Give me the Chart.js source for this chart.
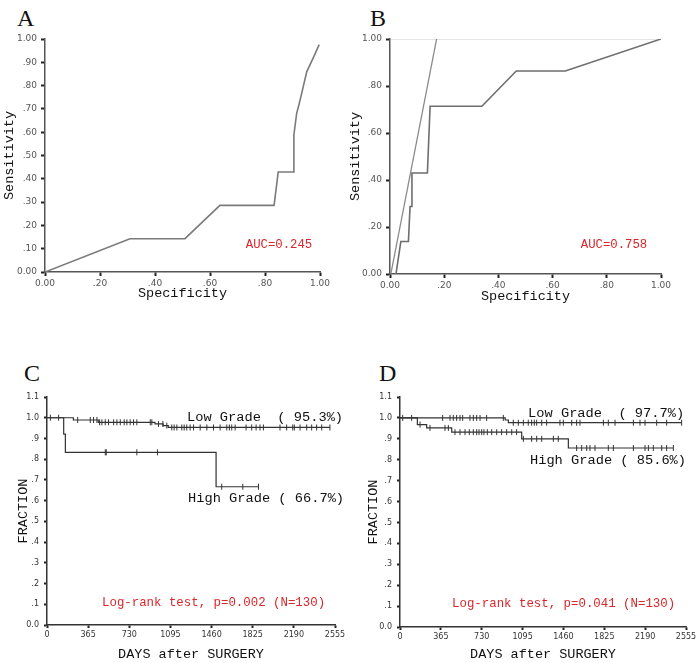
<!DOCTYPE html>
<html>
<head>
<meta charset="utf-8">
<script src="https://cdn.jsdelivr.net/npm/chart.js@4.4.1/dist/chart.umd.min.js"></script>
<style>
  body { margin: 0; background: #fff; width: 700px; height: 663px; position: relative; overflow: hidden; }
  canvas { position: absolute; }
  .letter { position: absolute; font-family: 'Liberation Serif', serif; font-size: 24px; line-height: 1; color: #111; }
</style>
</head>
<body>
<div class="letter" style="left:17px; top:6px;">A</div>
<div class="letter" style="left:370px; top:6px;">B</div>
<div class="letter" style="left:24px; top:361px;">C</div>
<div class="letter" style="left:379px; top:361px;">D</div>
<canvas id="chartA" width="340" height="310" style="left:0; top:0;"></canvas>
<canvas id="chartB" width="360" height="310" style="left:340px; top:0;"></canvas>
<canvas id="chartC" width="350" height="283" style="left:0; top:380px;"></canvas>
<canvas id="chartD" width="350" height="283" style="left:350px; top:380px;"></canvas>
<script>
// ROC A
var aSpec = [0, 0.309, 0.509, 0.636, 0.833, 0.848, 0.905, 0.905, 0.915, 0.925, 0.952, 0.975, 0.997];
var aSens = [0, 0.143, 0.143, 0.286, 0.286, 0.429, 0.429, 0.588, 0.68, 0.725, 0.86, 0.918, 0.976];
var aAuc = 'AUC=0.245';

// ROC B
var bSpec = [0.022, 0.04, 0.068, 0.074, 0.081, 0.081, 0.138, 0.148, 0.156, 0.339, 0.466, 0.647, 1.0];
var bSens = [0, 0.138, 0.138, 0.287, 0.287, 0.43, 0.43, 0.714, 0.714, 0.714, 0.864, 0.864, 1.0];
var bRefSpec = [0.003, 0.172];
var bRefSens = [0, 1];
var bAuc = 'AUC=0.758';

// ROC tick labels
var aYTicks = [0, 0.1, 0.2, 0.3, 0.4, 0.5, 0.6, 0.7, 0.8, 0.9, 1];
var aYLabels = ['0.00', '.10', '.20', '.30', '.40', '.50', '.60', '.70', '.80', '.90', '1.00'];
var bYTicks = [0, 0.2, 0.4, 0.6, 0.8, 1];
var bYLabels = ['0.00', '.20', '.40', '.60', '.80', '1.00'];
var rocXTicks = [0, 0.2, 0.4, 0.6, 0.8, 1];
var rocXLabels = ['0.00', '.20', '.40', '.60', '.80', '1.00'];

// Kaplan-Meier C
var cLowTime = [0, 234, 455, 958, 1030, 1076, 2510];
var cLowSurv = [1.0, 0.989, 0.978, 0.97, 0.962, 0.953, 0.953];
var cLowCens = [30, 103, 272, 384, 413, 443, 467, 487, 517, 546, 591, 620, 650, 685, 709, 738, 768, 797, 916, 930, 989, 1028, 1063, 1107, 1128, 1152, 1196, 1217, 1240, 1270, 1300, 1359, 1418, 1477, 1536, 1595, 1618, 1639, 1669, 1766, 1816, 1855, 1890, 1920, 2067, 2126, 2180, 2194, 2245, 2304, 2348, 2392, 2437, 2510];
var cHighTime = [0, 148, 163, 1500, 1876];
var cHighSurv = [1.0, 0.921, 0.833, 0.667, 0.667];
var cHighCens = [517, 526, 797, 980, 1550, 1737, 1876];
var cNotes = ['Low Grade  ( 95.3%)', 'High Grade ( 66.7%)', 'Log-rank test, p=0.002 (N=130)'];

// Kaplan-Meier D
var dLowTime = [0, 940, 968, 2516];
var dLowSurv = [1.0, 0.99, 0.977, 0.977];
var dLowCens = [24, 104, 381, 447, 476, 506, 536, 560, 625, 655, 685, 715, 774, 923, 1012, 1057, 1102, 1146, 1176, 1200, 1221, 1266, 1310, 1429, 1459, 1534, 1578, 1608, 1817, 1861, 1921, 2085, 2144, 2189, 2293, 2382, 2516];
var dHighTime = [0, 155, 238, 462, 1087, 1504, 2442];
var dHighSurv = [1.0, 0.968, 0.952, 0.932, 0.90, 0.856, 0.856];
var dHighCens = [179, 268, 402, 432, 491, 536, 581, 619, 655, 685, 706, 730, 750, 780, 819, 864, 908, 953, 998, 1042, 1102, 1176, 1221, 1266, 1370, 1414, 1578, 1623, 1668, 1697, 1742, 1861, 1906, 2085, 2189, 2219, 2263, 2338, 2382, 2442];
var dNotes = ['Low Grade  ( 97.7%)', 'High Grade ( 85.6%)', 'Log-rank test, p=0.041 (N=130)'];

// KM tick labels
var kmXTicks = [0, 365, 730, 1095, 1460, 1825, 2190, 2555];
var kmXLabels = ['0', '365', '730', '1095', '1460', '1825', '2190', '2555'];
var kmYTicks = [0, 0.1, 0.2, 0.3, 0.4, 0.5, 0.6, 0.7, 0.8, 0.9, 1.0, 1.1];
var kmYLabels = ['0.0', '.1', '.2', '.3', '.4', '.5', '.6', '.7', '.8', '.9', '1.0', '1.1'];

var RED = '#d8262b';
var MONO = "'Liberation Mono', 'DejaVu Sans Mono', monospace";

function pairs(xs, ys) {
  var out = [];
  for (var i = 0; i < xs.length; i++) {
    out.push({ x: xs[i], y: ys[i] });
  }
  return out;
}

function survAt(times, surv, t) {
  var s = surv[0];
  for (var i = 0; i < times.length; i++) {
    if (times[i] <= t) s = surv[i];
  }
  return s;
}

function censorPoints(cens, times, surv) {
  var out = [];
  for (var i = 0; i < cens.length; i++) {
    out.push({ x: cens[i], y: survAt(times, surv, cens[i]) });
  }
  return out;
}

// draws text notes at data coordinates
var notesPlugin = {
  id: 'notes',
  afterDatasetsDraw: function (chart, args, opts) {
    var ctx = chart.ctx;
    var items = opts.items || [];
    for (var i = 0; i < items.length; i++) {
      var n = items[i];
      ctx.save();
      ctx.font = n.font;
      ctx.fillStyle = n.color;
      ctx.textBaseline = 'middle';
      ctx.textAlign = 'left';
      ctx.fillText(n.text, chart.scales.x.getPixelForValue(n.x), chart.scales.y.getPixelForValue(n.y));
      ctx.restore();
    }
  }
};

function fixedTicks(vals) {
  return function (scale) {
    scale.ticks = vals.map(function (v) { return { value: v }; });
  };
}

function axis(opts) {
  return {
    type: 'linear',
    min: opts.min,
    max: opts.max,
    afterBuildTicks: fixedTicks(opts.ticks),
    afterFit: opts.fit,
    ticks: {
      autoSkip: false,
      maxRotation: 0,
      padding: opts.padding,
      color: opts.tickColor,
      font: { family: "'DejaVu Sans', sans-serif", size: opts.tickSize },
      callback: function (v, i) { return opts.labels[i]; }
    },
    grid: {
      drawOnChartArea: !!opts.topLine,
      color: function (c) {
        return (opts.topLine && c.tick && c.tick.value === opts.max) ? '#e4e4e4' : 'rgba(0,0,0,0)';
      },
      tickColor: '#222',
      tickLength: opts.tickLength,
      tickWidth: 2
    },
    border: { display: true, color: opts.axisColor, width: 1.5 },
    title: {
      display: true,
      text: opts.title,
      color: '#111',
      font: { family: MONO, size: 13.5 },
      padding: opts.titlePad
    }
  };
}

function baseOptions(pad, scales, notes) {
  return {
    responsive: false,
    animation: false,
    devicePixelRatio: 1,
    layout: { padding: pad },
    plugins: {
      legend: { display: false },
      tooltip: { enabled: false },
      notes: { items: notes }
    },
    scales: scales
  };
}

function rocLine(xs, ys, color, width) {
  return {
    data: pairs(xs, ys),
    showLine: true,
    borderColor: color,
    borderWidth: width,
    pointRadius: 0,
    tension: 0,
    fill: false
  };
}

function kmLine(times, surv) {
  return {
    data: pairs(times, surv),
    showLine: true,
    stepped: true,
    borderColor: '#333',
    borderWidth: 1.2,
    pointRadius: 0,
    fill: false
  };
}

function kmCensor(cens, times, surv) {
  return {
    data: censorPoints(cens, times, surv),
    showLine: false,
    pointStyle: 'line',
    rotation: 90,
    pointRadius: 3,
    borderColor: '#333',
    borderWidth: 1,
    backgroundColor: '#333'
  };
}

// Panel A
new Chart(document.getElementById('chartA'), {
  type: 'scatter',
  data: { datasets: [rocLine(aSpec, aSens, '#7a7a7a', 1.6)] },
  options: baseOptions({ left: 0, top: 39, right: 20, bottom: 0 }, {
    x: axis({ min: 0, max: 1, ticks: rocXTicks, labels: rocXLabels, title: 'Specificity', tickSize: 9, tickColor: '#555', padding: 2, tickLength: 4, axisColor: '#555', titlePad: { top: 0, bottom: 8 }, fit: function (s) { s.height = 38; } }),
    y: axis({ min: 0, max: 1, ticks: aYTicks, labels: aYLabels, title: 'Sensitivity', tickSize: 9, tickColor: '#555', padding: 4, tickLength: 4, axisColor: '#555', titlePad: { top: 1, bottom: 0 }, fit: function (s) { s.width = 45; } })
  }, [{ text: aAuc, x: 0.73, y: 0.119, color: RED, font: '12.3px ' + MONO }]),
  plugins: [notesPlugin]
});

// Panel B
new Chart(document.getElementById('chartB'), {
  type: 'scatter',
  data: { datasets: [rocLine(bRefSpec, bRefSens, '#8a8a8a', 1.3), rocLine(bSpec, bSens, '#6e6e6e', 1.6)] },
  options: baseOptions({ left: 0, top: 39, right: 39, bottom: 0 }, {
    x: axis({ min: 0, max: 1, ticks: rocXTicks, labels: rocXLabels, title: 'Specificity', tickSize: 9, tickColor: '#555', padding: 2, tickLength: 4, axisColor: '#555', titlePad: { top: 0, bottom: 5 }, fit: function (s) { s.height = 36; } }),
    y: axis({ min: 0, max: 1, ticks: bYTicks, labels: bYLabels, title: 'Sensitivity', tickSize: 9, tickColor: '#555', padding: 4, tickLength: 4, axisColor: '#555', topLine: true, titlePad: { top: 7, bottom: 0 }, fit: function (s) { s.width = 50; } })
  }, [{ text: bAuc, x: 0.704, y: 0.126, color: RED, font: '12.3px ' + MONO }]),
  plugins: [notesPlugin]
});

// Panel C
new Chart(document.getElementById('chartC'), {
  type: 'scatter',
  data: {
    datasets: [
      kmLine(cLowTime, cLowSurv), kmCensor(cLowCens, cLowTime, cLowSurv),
      kmLine(cHighTime, cHighSurv), kmCensor(cHighCens, cHighTime, cHighSurv)
    ]
  },
  options: baseOptions({ left: 0, top: 17, right: 15, bottom: 0 }, {
    x: axis({ min: 0, max: 2555, ticks: kmXTicks, labels: kmXLabels, title: 'DAYS after SURGERY', tickSize: 8, tickColor: '#333', padding: 2, tickLength: 3, axisColor: '#333', titlePad: { top: 0, bottom: 0 }, fit: function (s) { s.height = 38; } }),
    y: axis({ min: 0, max: 1.1, ticks: kmYTicks, labels: kmYLabels, title: 'FRACTION', tickSize: 8, tickColor: '#333', padding: 5, tickLength: 3, axisColor: '#333', titlePad: { top: 15, bottom: 0 }, fit: function (s) { s.width = 47; } })
  }, [
    { text: cNotes[0], x: 1242, y: 1.0, color: '#111', font: '13.7px ' + MONO },
    { text: cNotes[1], x: 1251, y: 0.611, color: '#111', font: '13.7px ' + MONO },
    { text: cNotes[2], x: 488, y: 0.106, color: RED, font: '12.4px ' + MONO }
  ]),
  plugins: [notesPlugin]
});

// Panel D
new Chart(document.getElementById('chartD'), {
  type: 'scatter',
  data: {
    datasets: [
      kmLine(dLowTime, dLowSurv), kmCensor(dLowCens, dLowTime, dLowSurv),
      kmLine(dHighTime, dHighSurv), kmCensor(dHighCens, dHighTime, dHighSurv)
    ]
  },
  options: baseOptions({ left: 0, top: 17, right: 14, bottom: 0 }, {
    x: axis({ min: 0, max: 2555, ticks: kmXTicks, labels: kmXLabels, title: 'DAYS after SURGERY', tickSize: 8, tickColor: '#333', padding: 2, tickLength: 3, axisColor: '#333', titlePad: { top: 0, bottom: 0 }, fit: function (s) { s.height = 36; } }),
    y: axis({ min: 0, max: 1.1, ticks: kmYTicks, labels: kmYLabels, title: 'FRACTION', tickSize: 8, tickColor: '#333', padding: 5, tickLength: 3, axisColor: '#333', titlePad: { top: 15, bottom: 0 }, fit: function (s) { s.width = 50; } })
  }, [
    { text: dNotes[0], x: 1144, y: 1.022, color: '#111', font: '13.7px ' + MONO },
    { text: dNotes[1], x: 1161, y: 0.797, color: '#111', font: '13.7px ' + MONO },
    { text: dNotes[2], x: 465, y: 0.113, color: RED, font: '12.4px ' + MONO }
  ]),
  plugins: [notesPlugin]
});
</script>
</body>
</html>
